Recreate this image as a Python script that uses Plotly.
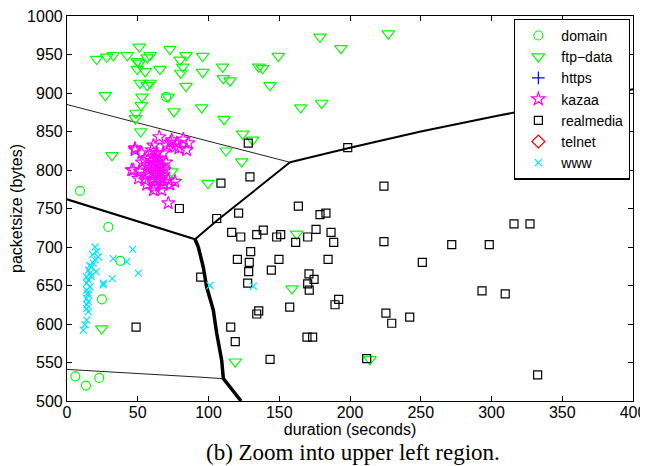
import plotly.graph_objects as go

# ---------------- data ----------------
domain_x = [70.0, 9.2, 29.2, 37.7, 24.7, 5.9, 13.4, 22.8]
domain_y = [895, 773, 726, 682, 632, 532, 520, 530]

ftp_x = [21.0, 28.1, 32.7, 42.6, 51.1, 49.7, 51.1, 49.7, 55.3, 56.7, 58.7, 72.8, 65.7,
         79.9, 84.1, 81.8, 80.4, 95.9, 95.9, 110.0, 84.1, 51.6, 56.7, 58.7, 27.1, 53.0,
         110.5, 115.2, 135.5, 52.5, 48.8, 48.3, 52.1, 75.6, 95.2, 111.0, 31.8, 48.1,
         112.4, 124.2, 131.2, 123.5, 138.3, 143.5, 149.3, 74.0, 178.8, 227.1, 193.6,
         165.2, 180.0, 99.6, 162.3, 159.0, 118.9, 214.1, 24.5, 71.4]
ftp_y = [944, 947, 949, 949, 960, 941, 939, 931, 928, 946, 949, 957, 931,
         943, 949, 934, 926, 948, 927, 934, 909, 913, 910, 913, 897, 895,
         919, 916, 934, 884, 874, 867, 850, 876, 881, 866, 819, 828,
         825, 847, 839, 811, 932, 910, 948, 798, 973, 977, 958,
         881, 887, 783, 717, 646, 551, 554, 594, 895]

https_x = [None]
https_y = [None]

kazaa_x = [65.2, 74.0, 77.5, 82.2, 61.0, 70.5, 76.3, 48.1, 52.8, 59.9, 63.4, 61.0, 65.7,
           62.2, 59.9, 65.7, 46.9, 51.6, 56.3, 62.2, 68.1, 50.4, 55.1, 61.0, 65.7, 71.6,
           76.3, 56.3, 62.2, 68.1, 72.8, 61.0, 66.9, 71.6, 85.7, 84.6, 48.0, 45.7,
           63.0, 64.0, 60.0, 66.0, 58.0, 62.0, 64.0, 67.0, 69.0, 53.0, 57.0, 70.0,
           79.0, 73.0, 68.0, 55.0, 63.0, 66.0]
kazaa_y = [843, 839, 835, 840, 832, 832, 830, 826, 822, 826, 822, 817, 813,
           809, 804, 804, 800, 798, 794, 796, 794, 789, 787, 789, 787, 787,
           785, 781, 778, 781, 781, 774, 774, 757, 835, 826, 828, 800,
           815, 808, 812, 798, 800, 785, 792, 806, 800, 810, 806, 810,
           828, 836, 822, 815, 800, 790]

realmedia_x = [128.1, 198.4, 129.3, 108.8, 105.8, 121.3, 163.5, 178.8, 183.0, 116.4, 122.8,
               134.1, 138.7, 148.2, 151.0, 161.6, 170.1, 176.0, 186.6, 188.5, 129.8, 120.4,
               128.8, 149.8, 184.5, 128.4, 144.4, 127.7, 171.0, 174.6, 170.1, 171.2, 94.5,
               135.5, 134.1, 157.4, 192.0, 189.4, 115.7, 118.9, 169.6, 173.6, 143.5, 211.8,
               48.8, 79.4, 224.0, 224.0, 315.9, 327.2, 271.9, 298.4, 251.1, 293.3, 309.7,
               225.4, 229.5, 242.2, 332.6]
realmedia_y = [835, 829, 791, 783, 737, 744, 753, 742, 744, 719, 713,
               716, 722, 713, 716, 706, 713, 723, 719, 706, 694, 684,
               680, 684, 684, 668, 670, 653, 665, 658, 652, 644, 661,
               617, 613, 622, 632, 625, 596, 577, 583, 583, 554, 555,
               596, 750, 779, 707, 730, 730, 703, 703, 680, 643, 639,
               614, 601, 609, 534]

telnet_x = [None]
telnet_y = [None]

www_x = [19.8, 21.0, 22.1, 19.8, 18.6, 17.5, 15.1, 16.3, 13.9, 15.1, 13.9, 16.3, 13.9,
         15.1, 13.9, 15.1, 13.9, 15.1, 13.9, 12.7, 11.5, 25.7, 32.7, 42.2, 46.4, 32.0,
         50.4, 25.7, 101.1, 131.7, 17.0, 14.5, 16.0, 18.0, 14.0, 20.5]
www_y = [700, 694, 687, 683, 679, 674, 670, 666, 661, 657, 653, 648, 644,
         638, 633, 629, 620, 616, 605, 599, 592, 653, 685, 681, 697, 659,
         666, 651, 650, 649, 662, 640, 676, 690, 625, 668]

# decision boundaries
bndA_x = [0, 50, 100, 150, 157.6]
bndA_y = [885, 861, 838, 814, 810]
bndB_x = [157.6, 200, 250, 306, 400]
bndB_y = [810, 829, 850, 871, 905]
bndC_x = [90.5, 105.8, 157.6]
bndC_y = [710, 734, 810]
bndD_x = [0, 90.5]
bndD_y = [762, 710]
bndE_x = [90.5, 92.8, 96.3, 98.7, 103.4, 105.8, 109.3, 110.5, 123.0]
bndE_y = [710, 700, 674, 648, 618, 588, 553, 529, 500]
bndF_x = [0, 42.2, 65.7, 94.0, 110.5]
bndF_y = [541, 537, 534, 531, 529]

x_ticks = [0, 50, 100, 150, 200, 250, 300, 350, 400]
y_ticks = [500, 550, 600, 650, 700, 750, 800, 850, 900, 950, 1000]

# ---------------- figure ----------------
fig = go.Figure()

for bx, by, w, c in [(bndA_x, bndA_y, 1, "#222"), (bndF_x, bndF_y, 1, "#222"),
                     (bndB_x, bndB_y, 2, "black"), (bndC_x, bndC_y, 2, "black"),
                     (bndD_x, bndD_y, 2.2, "black"), (bndE_x, bndE_y, 3.5, "black")]:
    fig.add_trace(go.Scatter(x=bx, y=by, mode="lines", line=dict(color=c, width=w),
                             showlegend=False, hoverinfo="skip"))

series = [
    ("domain", domain_x, domain_y, "circle-open", "#00ff00", 9),
    ("ftp\u2212data", ftp_x, ftp_y, "triangle-down-open", "#00ff00", 11),
    ("https", https_x, https_y, "cross-thin-open", "#0000ff", 9),
    ("kazaa", kazaa_x, kazaa_y, "star-open", "#ff00ff", 10),
    ("realmedia", realmedia_x, realmedia_y, "square-open", "black", 8),
    ("telnet", telnet_x, telnet_y, "diamond-open", "#ff0000", 10),
    ("www", www_x, www_y, "x-thin-open", "#00e5ff", 7),
]
for name, sx, sy, sym, col, sz in series:
    fig.add_trace(go.Scatter(x=sx, y=sy, mode="markers", name=name, showlegend=True,
                             marker=dict(symbol=sym, color=col, size=sz,
                                         line=dict(color=col, width=1.2))))

axis_common = dict(showgrid=False, zeroline=False, showline=True, linecolor="black",
                   linewidth=1.2, mirror="ticks", ticks="inside", ticklen=5,
                   tickcolor="black", tickfont=dict(size=16, color="black"),
                   automargin=False, ticklabeloverflow="allow")

fig.update_layout(
    width=640, height=458,
    margin=dict(l=59, r=15, t=8, b=65),
    paper_bgcolor="white", plot_bgcolor="white",
    font=dict(family="Liberation Sans, Arial, sans-serif", color="black", size=16),
    xaxis=dict(range=[0, 400], tickvals=x_ticks, ticklabelstandoff=-3,
               title=dict(text="duration (seconds)", font=dict(size=16), standoff=0),
               **axis_common),
    yaxis=dict(range=[500, 1000], tickvals=y_ticks,
               title=dict(text="packetsize (bytes)", font=dict(size=16), standoff=2),
               **axis_common),
    legend=dict(x=0.995, y=0.993, xanchor="right", yanchor="top",
                bordercolor="black", borderwidth=1.2, bgcolor="white",
                font=dict(size=14), tracegroupgap=0, itemsizing="trace",
                itemwidth=36),
    annotations=[dict(text="(b) Zoom into upper left region.", xref="paper", yref="paper",
                      x=0.505, y=-0.1325, xanchor="center", yanchor="middle", showarrow=False,
                      font=dict(family="Liberation Serif, Times New Roman, serif", size=23,
                                color="black"))],
)

fig.write_html("out.html")
